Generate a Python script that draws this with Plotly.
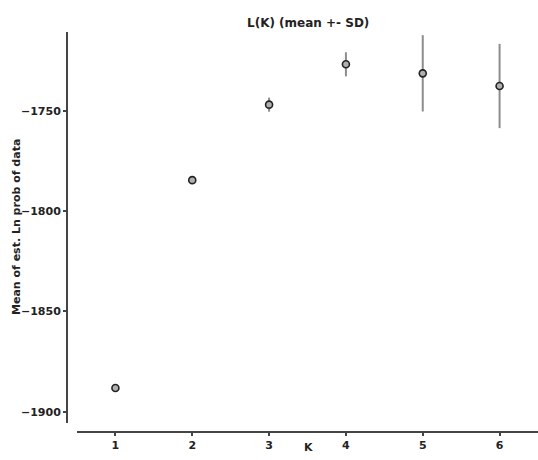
import plotly.graph_objects as go

K = [1, 2, 3, 4, 5, 6]
mean_lnp = [-1888.2, -1784.6, -1747.0, -1726.9, -1731.4, -1737.7]
sd_lnp = [0.6, 0.6, 3.5, 6.0, 19.0, 21.0]
y_ticks = [-1750, -1800, -1850, -1900]

W, H = 538, 460
L, R, T, B = 60, 0, 32, 20
pw = W - L - R
ph = H - T - B

def px_x(x):
    return (x - L) / pw

def px_y(y):
    return (H - B - y) / ph

FONT = "DejaVu Sans"
fig = go.Figure()
fig.add_trace(go.Scatter(
    x=K, y=mean_lnp, mode="markers",
    error_y=dict(type="data", array=sd_lnp, visible=True, color="#8c8c8c",
                 thickness=2, width=0),
    marker=dict(symbol="circle", size=7, color="#b0b0b0",
                line=dict(color="#222222", width=1.6)),
    showlegend=False,
))

fig.update_layout(
    width=W, height=H,
    margin=dict(l=L, r=R, t=T, b=B, autoexpand=False),
    plot_bgcolor="white", paper_bgcolor="white",
    font=dict(family=FONT, size=11, color="#222222", weight="bold"),
    xaxis=dict(
        domain=[px_x(77), 1],
        range=[0.5, 6.5],
        tickvals=K, ticktext=[str(k) for k in K],
        showgrid=False, zeroline=False, automargin=False,
        showline=True, linecolor="#444444", linewidth=2,
        ticks="outside", ticklen=3, tickwidth=1.5, tickcolor="#444444",
        anchor="free", position=px_y(432),
        tickfont=dict(family=FONT, size=11, color="#222222", weight="bold"),
    ),
    yaxis=dict(
        domain=[px_y(423), 1],
        range=[-1905.6, -1710.8],
        tickvals=y_ticks,
        showgrid=False, zeroline=False, automargin=False,
        showline=True, linecolor="#444444", linewidth=2,
        ticks="outside", ticklen=3, tickwidth=1.5, tickcolor="#444444",
        anchor="free", position=px_x(67),
        tickfont=dict(family=FONT, size=11, color="#222222", weight="bold"),
    ),
    annotations=[
        dict(text="L(K) (mean +- SD)", xref="paper", yref="paper",
             x=px_x(308), y=px_y(23),
             xanchor="center", yanchor="middle", showarrow=False,
             font=dict(family=FONT, size=12, color="#222222", weight="bold")),
        dict(text="Mean of est. Ln prob of data", xref="paper", yref="paper",
             x=px_x(16), y=px_y(227), textangle=-90,
             xanchor="center", yanchor="middle", showarrow=False,
             font=dict(family=FONT, size=11, color="#222222", weight="bold")),
        dict(text="K", xref="paper", yref="paper",
             x=px_x(308), y=px_y(447),
             xanchor="center", yanchor="middle", showarrow=False,
             font=dict(family=FONT, size=11, color="#222222", weight="bold")),
    ],
)

fig.write_html(
    "out.html",
    config={"displayModeBar": False},
    post_script="document.body.style.margin='0';document.body.style.overflow='hidden';",
)
